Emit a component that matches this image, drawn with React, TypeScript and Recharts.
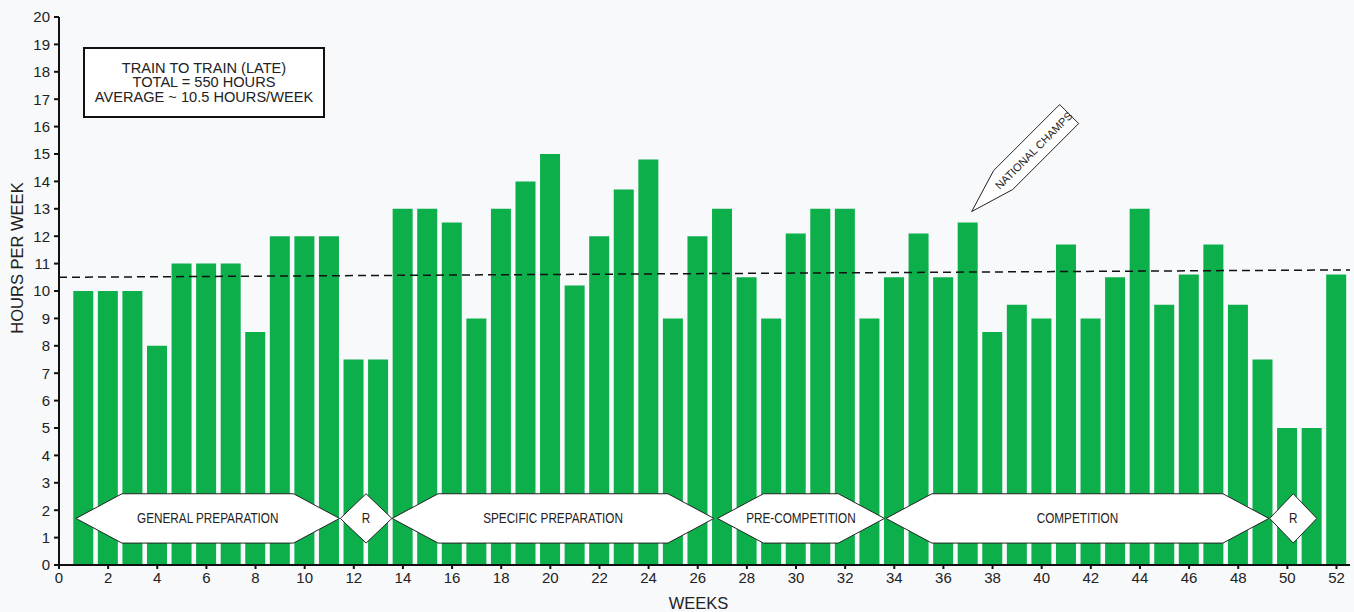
import { BarChart, Bar, XAxis, YAxis, ReferenceLine, ReferenceArea, ReferenceDot } from "recharts";

const weeks = Array.from({ length: 52 }, (_, i) => i + 1);
const hours = [
  10, 10, 10, 8, 11, 11, 11, 8.5, 12, 12, 12, 7.5, 7.5, 13, 13, 12.5, 9, 13, 14, 15,
  10.2, 12, 13.7, 14.8, 9, 12, 13, 10.5, 9, 12.1, 13, 13, 9, 10.5, 12.1, 10.5, 12.5, 8.5,
  9.5, 9, 11.7, 9, 10.5, 13, 9.5, 10.6, 11.7, 9.5, 7.5, 5, 5, 10.6,
];
const xTicks = Array.from({ length: 27 }, (_, i) => i * 2);
const yTicks = Array.from({ length: 21 }, (_, i) => i);
const trendStart = { x: 0, y: 10.5 };
const trendEnd = { x: 52.55, y: 10.77 };

const phases = [
  { label: "GENERAL PREPARATION", start: 0.69, end: 11.42, diamond: false },
  { label: "R", start: 11.45, end: 13.55, diamond: true },
  { label: "SPECIFIC PREPARATION", start: 13.56, end: 26.66, diamond: false },
  { label: "PRE-COMPETITION", start: 26.8, end: 33.6, diamond: false },
  { label: "COMPETITION", start: 33.66, end: 49.25, diamond: false },
  { label: "R", start: 49.28, end: 51.2, diamond: true },
];
const phaseLow = 0.8;
const phaseHigh = 2.6;

const data = weeks.map((w, i) => ({ week: w, hours: hours[i] }));

const font = "'Liberation Sans', Arial, sans-serif";
const GREEN = "#0daf4b";

// condensed label text, like the narrow face of the original
const Narrow = ({ x, y, size, squeeze, children }: any) => (
  <text
    x={0}
    y={0}
    transform={`translate(${x} ${y}) scale(${squeeze} 1)`}
    textAnchor="middle"
    dominantBaseline="central"
    fontFamily={font}
    fontSize={size}
    fill="#222"
  >
    {children}
  </text>
);

const phaseShape = (label: string, diamond: boolean) => (props: any) => {
  const { x, y, width, height } = props;
  const mid = y + height / 2;
  const inset = diamond ? width / 2 : 46;
  const pts = [
    [x, mid],
    [x + inset, y],
    [x + width - inset, y],
    [x + width, mid],
    [x + width - inset, y + height],
    [x + inset, y + height],
  ]
    .map((p) => p.join(","))
    .join(" ");
  return (
    <g>
      <polygon points={pts} fill="#fff" fillOpacity={1} stroke="#222" strokeWidth={1} />
      <Narrow x={x + width / 2} y={mid} size={14} squeeze={0.84}>
        {label}
      </Narrow>
    </g>
  );
};

const champsShape = (props: any) => {
  const { cx, cy } = props;
  const pts = [
    [0, 0],
    [22, -41],
    [88, -107],
    [107, -88],
    [41, -22],
  ]
    .map(([dx, dy]) => `${cx + dx},${cy + dy}`)
    .join(" ");
  const tx = cx + 62;
  const ty = cy - 61;
  return (
    <g>
      <polygon points={pts} fill="#fff" stroke="#222" strokeWidth={1} />
      <text
        x={tx}
        y={ty}
        transform={`rotate(-45 ${tx} ${ty})`}
        textAnchor="middle"
        dominantBaseline="central"
        fontFamily={font}
        fontSize={11}
        fill="#222"
      >
        NATIONAL CHAMPS
      </text>
    </g>
  );
};

export default function App() {
  return (
    <div style={{ position: "absolute", left: 0, top: 0, width: 1354, height: 612, background: "#f8f9fb" }}>
      <BarChart
        width={1354}
        height={612}
        data={data}
        margin={{ top: 17, right: 4, left: 0, bottom: 0 }}
        style={{ fontFamily: font }}
      >
        <XAxis
          type="number"
          dataKey="week"
          domain={[0, 52.55]}
          ticks={xTicks}
          interval={0}
          height={47}
          tickSize={4}
          tickMargin={3}
          axisLine={{ stroke: "#111", strokeWidth: 2 }}
          tickLine={{ stroke: "#111", strokeWidth: 2 }}
          tick={{ fill: "#222", fontSize: 15 }}
          label={({ viewBox }: any) => (
            <text
              x={viewBox.x + viewBox.width / 2 - 6}
              y={603}
              textAnchor="middle"
              dominantBaseline="central"
              fontFamily={font}
              fontSize={16.5}
              fill="#222"
            >
              WEEKS
            </text>
          )}
        />
        <YAxis
          type="number"
          domain={[0, 20]}
          ticks={yTicks}
          interval={0}
          width={59}
          tickSize={5}
          tickMargin={4}
          axisLine={{ stroke: "#111", strokeWidth: 2 }}
          tickLine={{ stroke: "#111", strokeWidth: 2 }}
          tick={{ fill: "#222", fontSize: 15 }}
          label={() => (
            <text
              x={17}
              y={258}
              transform="rotate(-90 17 258)"
              textAnchor="middle"
              dominantBaseline="central"
              fontFamily={font}
              fontSize={16.5}
              fill="#222"
            >
              HOURS PER WEEK
            </text>
          )}
        />
        <Bar dataKey="hours" fill={GREEN} barSize={20} isAnimationActive={false} />
        <ReferenceLine
          segment={[trendStart, trendEnd]}
          stroke="#111"
          strokeWidth={1.5}
          strokeDasharray="8 5"
        />
        {phases.map((p, i) => (
          <ReferenceArea
            key={i}
            x1={p.start}
            x2={p.end}
            y1={phaseLow}
            y2={phaseHigh}
            fillOpacity={1}
            zIndex={700}
            shape={phaseShape(p.label, p.diamond)}
          />
        ))}
        <ReferenceDot x={37.15} y={12.9} shape={champsShape} />
      </BarChart>
      <div
        style={{
          position: "absolute",
          left: 83,
          top: 47,
          width: 242,
          height: 71,
          boxSizing: "border-box",
          border: "2px solid #111",
          background: "#fff",
          display: "flex",
          alignItems: "center",
          justifyContent: "center",
          textAlign: "center",
          fontFamily: font,
          fontSize: 14.6,
          lineHeight: "14.5px",
          color: "#222",
        }}
      >
        <div>
          TRAIN TO TRAIN (LATE)
          <br />
          TOTAL = 550 HOURS
          <br />
          AVERAGE ~ 10.5 HOURS/WEEK
        </div>
      </div>
    </div>
  );
}
